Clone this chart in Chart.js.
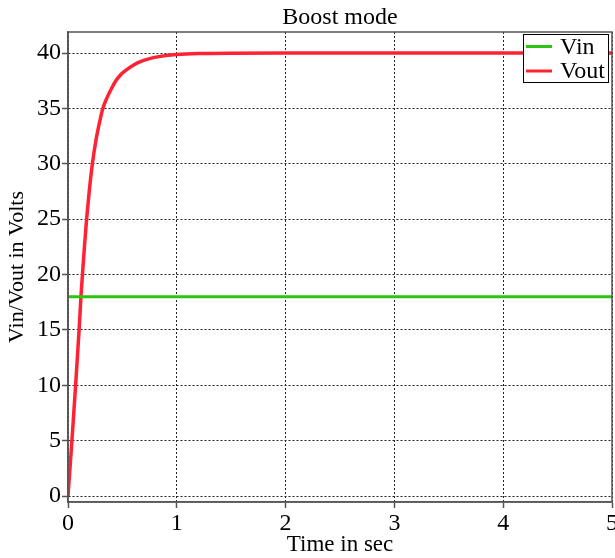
<!DOCTYPE html>
<html>
<head>
<meta charset="utf-8">
<script src="https://cdn.jsdelivr.net/npm/chart.js@4/dist/chart.umd.min.js"></script>
<style>
  html, body { margin: 0; padding: 0; background: #fff; }
  canvas { display: block; }
</style>
</head>
<body>
<canvas id="c" width="615" height="558" style="width:615px;height:558px"></canvas>
<script>
// ---- data ----
const chartTitle = "Boost mode";
const xTitle = "Time in sec";
const yTitle = "Vin/Vout in Volts";
const seriesNames = ["Vin", "Vout"];

const vinTime = [0, 5];
const vinValues = [18, 18];

const voutTime = [0, 0.036, 0.07, 0.102, 0.119, 0.133, 0.151, 0.171, 0.195, 0.224, 0.26, 0.28, 0.3, 0.32, 0.36, 0.4, 0.44, 0.48, 0.54, 0.6, 0.66, 0.75, 0.85, 1.0, 1.2, 1.5, 2, 2.5, 3, 3.5, 4, 4.5, 5];
const voutValues = [0, 5, 10, 15, 18, 20, 22.5, 25, 27.5, 30, 32.3, 33.3, 34.2, 35.0, 36.0, 36.8, 37.5, 38.0, 38.5, 38.9, 39.2, 39.5, 39.7, 39.86, 39.95, 39.99, 40, 40, 40, 40, 40, 40, 40];

const xTicks = [0, 1, 2, 3, 4, 5];
const yTicks = [0, 5, 10, 15, 20, 25, 30, 35, 40];

const toPoints = (xs, ys) => xs.map((x, i) => ({ x: x, y: ys[i] }));

const FONT = "'Liberation Serif', 'DejaVu Serif', serif";

const boxPlugin = {
  id: 'boxAndLegend',
  afterDraw(chart) {
    const ctx = chart.ctx;
    const a = chart.chartArea;
    ctx.save();
    ctx.setLineDash([]);
    // title centred over the plot area
    ctx.fillStyle = '#000';
    ctx.font = "24px " + FONT;
    ctx.textAlign = 'center';
    ctx.textBaseline = 'middle';
    ctx.fillText(chartTitle, (a.left + a.right) / 2, 18);

    // full box around the plot
    ctx.strokeStyle = '#555';
    ctx.lineWidth = 1.5;
    ctx.strokeRect(a.left, a.top, a.right - a.left, a.bottom - a.top);

    // legend box in the top-right of the plot
    const lx = a.right - 89, ly = a.top + 2, lw = 85, lh = 48;
    ctx.fillStyle = '#fff';
    ctx.fillRect(lx, ly, lw, lh);
    ctx.strokeStyle = '#000';
    ctx.lineWidth = 1;
    ctx.strokeRect(lx + 0.5, ly + 0.5, lw, lh);
    chart.data.datasets.forEach((ds, i) => {
      const y = ly + 12.5 + i * 24.5;
      ctx.strokeStyle = ds.borderColor;
      ctx.lineWidth = 3;
      ctx.beginPath();
      ctx.moveTo(lx + 3, y);
      ctx.lineTo(lx + 29, y);
      ctx.stroke();
      ctx.fillStyle = '#000';
      ctx.font = "24px " + FONT;
      ctx.textBaseline = 'middle';
      ctx.textAlign = 'left';
      ctx.fillText(ds.label, lx + 37, y + 1);
    });
    ctx.restore();
  }
};

const gridOpts = {
  color: '#222',
  lineWidth: 1,
  tickColor: '#555',
  tickLength: 6,
  tickBorderDash: [],
  tickWidth: 1.5
};

new Chart(document.getElementById('c'), {
  type: 'line',
  data: {
    datasets: [
      {
        label: seriesNames[0],
        data: toPoints(vinTime, vinValues),
        borderColor: '#2dc40f',
        borderWidth: 3,
        pointRadius: 0,
        tension: 0,
        fill: false
      },
      {
        label: seriesNames[1],
        data: toPoints(voutTime, voutValues),
        borderColor: '#ff2233',
        borderWidth: 3.5,
        pointRadius: 0,
        cubicInterpolationMode: 'monotone',
        fill: false
      }
    ]
  },
  options: {
    responsive: false,
    animation: false,
    layout: { padding: { left: 0, right: 3, top: 32, bottom: 0 } },
    plugins: {
      legend: { display: false },
      tooltip: { enabled: false },
      title: { display: false }
    },
    scales: {
      x: {
        type: 'linear',
        min: 0,
        max: 5,
        afterBuildTicks(s) { s.ticks = xTicks.map(v => ({ value: v })); },
        afterFit(s) { s.height = 56; s.paddingLeft = 0; s.paddingRight = 0; },
        ticks: {
          color: '#000',
          font: { family: FONT, size: 24 },
          padding: 1,
          maxRotation: 0,
          autoSkip: false
        },
        grid: gridOpts,
        border: { display: true, color: '#555', width: 1.5, dash: [2, 2] },
        title: {
          display: true,
          text: xTitle,
          color: '#000',
          font: { family: FONT, size: 23, lineHeight: 1.1 },
          padding: 0
        }
      },
      y: {
        type: 'linear',
        min: -0.54,
        max: 41.9,
        afterBuildTicks(s) { s.ticks = yTicks.map(v => ({ value: v })); },
        afterFit(s) { s.width = 68; s.paddingTop = 0; s.paddingBottom = 0; },
        ticks: {
          color: '#000',
          font: { family: FONT, size: 24 },
          padding: 1,
          autoSkip: false
        },
        grid: gridOpts,
        border: { display: true, color: '#555', width: 1.5, dash: [2, 2] },
        title: {
          display: true,
          text: yTitle,
          color: '#000',
          font: { family: FONT, size: 22, lineHeight: 1.6 },
          padding: 0
        }
      }
    }
  },
  plugins: [boxPlugin]
});
</script>
</body>
</html>
